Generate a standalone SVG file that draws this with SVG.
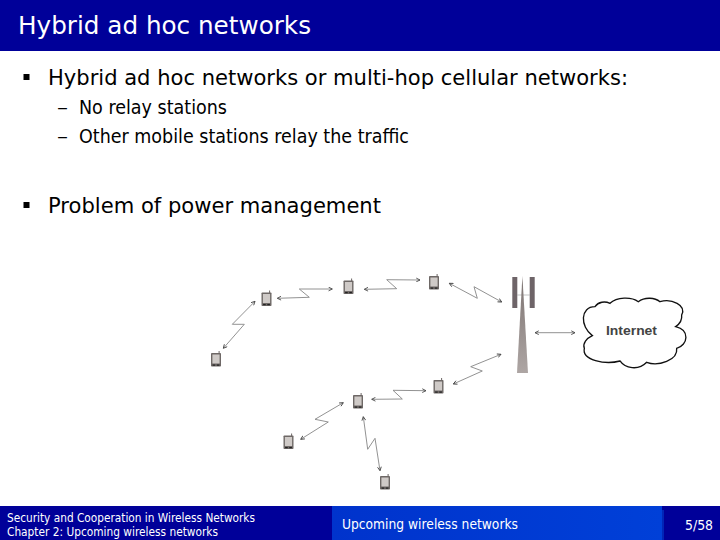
<svg xmlns="http://www.w3.org/2000/svg" width="720" height="540" viewBox="0 0 720 540">
<style>
text{font-family:"DejaVu Sans","Liberation Sans",sans-serif;fill:#000}
.w{fill:#fff}
.m{font-size:21.5px}
.s{font-size:19px}
.f{font-size:12.5px;fill:#fff}
.c{fill:none;stroke:#868686;stroke-width:.9;marker-start:url(#a);marker-end:url(#a)}
</style>
<defs>
<marker id="a" viewBox="0 0 8 8" refX="7" refY="4" markerWidth="5" markerHeight="5" markerUnits="userSpaceOnUse" orient="auto-start-reverse"><path d="M1 1L7 4L1 7" fill="none" stroke="#444" stroke-width="1.4"/></marker>
<linearGradient id="mast" x1="0" y1="0" x2="0" y2="1"><stop offset="0" stop-color="#7d7472"/><stop offset="1" stop-color="#aea6a4"/></linearGradient>
<linearGradient id="mid" x1="0" y1="0" x2="1" y2="0"><stop offset="0" stop-color="#0033cc"/><stop offset="1" stop-color="#0040d8"/></linearGradient>
<g id="phone">
<rect x="-5" y="-6.5" width="10" height="13.5" rx=".8" fill="#6e6866"/>
<rect x="-3.6" y="-5" width="7.2" height="9" fill="#cfcac7"/>
<rect x="2.6" y="-8.5" width="1" height="2.5" fill="#6e6866"/>
<rect x="-3.4" y="5" width="2.6" height="1.2" fill="#222"/>
<rect x=".8" y="5" width="2.6" height="1.2" fill="#222"/>
</g>
</defs>
<rect width="720" height="540" fill="#fff"/>
<rect width="720" height="51" fill="#000099"/>
<text class="w" x="18" y="34" font-size="25" textLength="293" lengthAdjust="spacingAndGlyphs">Hybrid ad hoc networks</text>
<rect x="23.5" y="74" width="6" height="6" fill="#000"/>
<text class="m" x="48" y="85" textLength="580" lengthAdjust="spacingAndGlyphs">Hybrid ad hoc networks or multi-hop cellular networks:</text>
<text class="s" x="57" y="114" textLength="11" lengthAdjust="spacingAndGlyphs">–</text>
<text class="s" x="79" y="114" textLength="148" lengthAdjust="spacingAndGlyphs">No relay stations</text>
<text class="s" x="57" y="143" textLength="11" lengthAdjust="spacingAndGlyphs">–</text>
<text class="s" x="79" y="143" textLength="330" lengthAdjust="spacingAndGlyphs">Other mobile stations relay the traffic</text>
<rect x="23.5" y="202" width="6" height="6" fill="#000"/>
<text class="m" x="48" y="213" textLength="333" lengthAdjust="spacingAndGlyphs">Problem of power management</text>
<g id="connectors">
<path class="c" d="M223.3 348.3L244.3 324.3L232.3 324.3L255 301.3"/>
<path class="c" d="M277.3 298.3L309.3 297.3L299.3 289L332.3 289"/>
<path class="c" d="M364.3 289.3L396.7 288.7L386.7 279.7L420 280"/>
<path class="c" d="M449.3 283.3L477.3 298.3L474 286.7L501.7 302"/>
<path class="c" d="M501 354.3L470.7 366.7L482.3 371L453.3 384"/>
<path class="c" d="M371.7 399.3L402.3 399L393 390.3L426 390.7"/>
<path class="c" d="M343.3 402.7L315 419.3L328.3 422L300.7 439.3"/>
<path class="c" d="M363.3 416.7L367.7 449.3L375 438.3L380 470.7"/>
<path class="c" d="M535 332.7L575 332.7"/>
</g>
<g id="node-a"><use href="#phone" x="216" y="359.5"/></g>
<g id="node-b"><use href="#phone" x="266.5" y="299"/></g>
<g id="node-c"><use href="#phone" x="348.5" y="287"/></g>
<g id="node-d"><use href="#phone" x="434" y="282.5"/></g>
<g id="node-e"><use href="#phone" x="438.5" y="386.5"/></g>
<g id="node-f"><use href="#phone" x="358" y="401.5"/></g>
<g id="node-g"><use href="#phone" x="288.5" y="442"/></g>
<g id="node-h"><use href="#phone" x="385" y="482.5"/></g>
<g id="tower">
<rect x="512.3" y="277" width="5" height="31" fill="#6e6468"/>
<rect x="529.7" y="277" width="5" height="31" fill="#6e6468"/>
<path d="M517 295H530" stroke="#aaa" stroke-width=".7"/>
<path d="M522.4 276L528 373H517Z" fill="url(#mast)"/>
</g>
<g id="internet">
<path transform="translate(575 285) scale(.3333)" d="M52 152C15 125 15 65 60 65C70 50 90 48 105 55C125 35 170 35 190 50C210 35 240 38 255 50C290 40 335 60 320 90C322 105 312 118 302 125C345 135 340 180 305 190C310 225 250 245 215 232C190 258 150 250 135 228C90 240 20 225 28 190C22 175 35 160 52 152Z" fill="#fff" stroke="#111" stroke-width="4"/>
<text x="606" y="335" style="font-family:'Liberation Sans',sans-serif;font-size:13.5px;font-weight:bold;fill:#444" textLength="51" lengthAdjust="spacingAndGlyphs">Internet</text>
</g>
<g id="footer">
<rect y="506" width="720" height="34" fill="#000099"/>
<rect x="332" y="506" width="330" height="34" fill="url(#mid)"/>
<rect x="662" y="510" width="2" height="30" fill="#0026b8"/>
<text class="f" x="7" y="522" textLength="248" lengthAdjust="spacingAndGlyphs">Security and Cooperation in Wireless Networks</text>
<text class="f" x="7" y="536" textLength="211" lengthAdjust="spacingAndGlyphs">Chapter 2: Upcoming wireless networks</text>
<text class="f" x="342" y="529" style="font-size:14px" textLength="176" lengthAdjust="spacingAndGlyphs">Upcoming wireless networks</text>
<text class="f" x="685" y="530" style="font-size:14px" textLength="28" lengthAdjust="spacingAndGlyphs">5/58</text>
</g>
</svg>
